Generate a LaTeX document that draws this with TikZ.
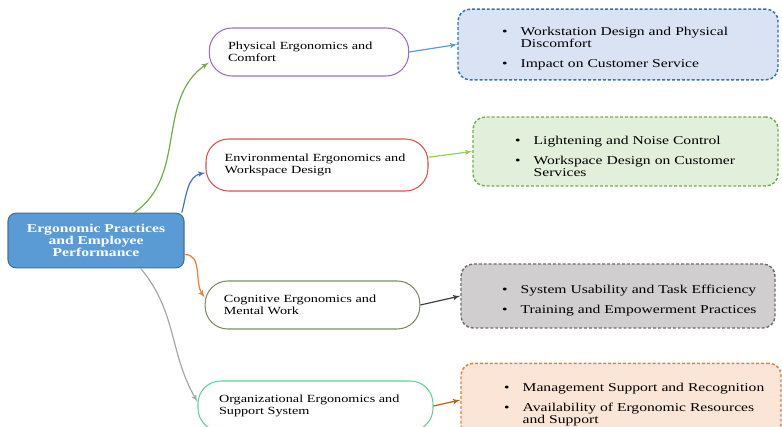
\documentclass[tikz,border=0pt]{standalone}
\usepackage{fontspec}
\setmainfont{Liberation Serif}[FakeStretch=1.3]
\usepackage{xcolor}
\usepackage{tikz}
\usetikzlibrary{arrows}
\tikzset{>=latex'}
\definecolor{rootfill}{HTML}{5B9BD5}
\definecolor{rootedge}{HTML}{41719C}
\definecolor{physline}{HTML}{9E6BCB}
\definecolor{envline}{HTML}{D9534F}
\definecolor{cogline}{HTML}{7B8F62}
\definecolor{orgline}{HTML}{5ED49A}
\definecolor{bluedash}{HTML}{2E75B6}
\definecolor{bluefill}{HTML}{DAE3F3}
\definecolor{greendash}{HTML}{70AD47}
\definecolor{greenfill}{HTML}{E2EFDA}
\definecolor{graydash}{HTML}{6E6E6E}
\definecolor{grayfill}{HTML}{D0CECE}
\definecolor{orangedash}{HTML}{ED7D31}
\definecolor{orangefill}{HTML}{FBE5D6}
\definecolor{branchblue}{HTML}{4472C4}
\definecolor{linkgreen}{HTML}{92D050}
\definecolor{linkorange}{HTML}{C55A11}
\newlength{\bind}
\newcommand{\bstart}[1]{\setlength{\bind}{#1}\rule{0pt}{13pt}}
\newcommand{\bitem}{\hspace*{\bind}\makebox[14pt][l]{\textbullet}}
\newcommand{\bcont}{\hspace*{\dimexpr\bind+14pt\relax}}

\begin{document}
\begin{tikzpicture}[x=0.75pt,y=-0.75pt,
	topic/.style={draw,line width=0.8pt,rounded corners=17pt,align=left,font=\fontsize{8.2}{9}\selectfont,inner xsep=14pt,inner ysep=0pt},
	detail/.style={draw,line width=1.1pt,dash pattern=on 2.2pt off 1.5pt,rounded corners=9pt,align=left,font=\fontsize{9}{9}\selectfont,inner sep=0pt},
	link/.style={->,line width=0.9pt}]
	\useasboundingbox (0,0) rectangle (782,427);
	\node[draw=rootedge,fill=rootfill,line width=0.8pt,rounded corners=6pt,minimum width=132pt,minimum height=41pt,align=center,text=white,font=\fontsize{9}{9}\selectfont\bfseries] (root) at (96,240.5) {Ergonomic Practices\\and Employee\\Performance};
	\node[topic,draw=physline,minimum height=36pt,text width=121.5pt] (phys) at (309,52) {Physical Ergonomics and\\Comfort};
	\node[topic,draw=envline,minimum height=39pt,text width=138.5pt] (env) at (317,165) {Environmental Ergonomics and\\Workspace Design};
	\node[topic,draw=cogline,minimum height=36pt,text width=133pt] (cog) at (312.5,305) {Cognitive Ergonomics and\\Mental Work};
	\node[topic,draw=orgline,minimum height=37.5pt,inner xsep=15.75pt,text width=144.75pt] (org) at (315.5,406) {Organizational Ergonomics and\\Support System};
	\node[detail,draw=bluedash,fill=bluefill,text width=240pt,minimum height=53pt] (work) at (618,44.5) {\bstart{33pt}\bitem Workstation Design and Physical\\\bcont Discomfort\\[6pt]\bitem Impact on Customer Service};
	\node[detail,draw=greendash,fill=greenfill,text width=228.75pt,minimum height=51.75pt] (light) at (625.5,151.5) {\bstart{31.5pt}\bitem Lightening and Noise Control\\[6pt]\bitem Workspace Design on Customer\\\bcont Services};
	\node[detail,draw=graydash,fill=grayfill,text width=235.5pt,minimum height=48pt] (usab) at (618,296) {\bstart{30.75pt}\bitem System Usability and Task Efficiency\\[6pt]\bitem Training and Empowerment Practices};
	\node[detail,draw=orangedash,fill=orangefill,text width=240pt,minimum height=55pt] (manag) at (621,400) {\bstart{32.25pt}\bitem Management Support and Recognition\\[6pt]\bitem Availability of Ergonomic Resources\\\bcont and Support};
	\draw[link,draw=greendash] (root.36.5) to[out=35,in=215] (phys.186);
	\draw[link,draw=branchblue] (root.18.5) to[out=75,in=190] (env.184);
	\draw[link,draw=orangedash] (root.-9.4) to[out=0,in=125] (cog.176);
	\draw[link,draw=black!35] (root.-32) to[out=-50,in=120] (org.178);
	\draw[link,draw=rootfill] (phys.east) -- (work.west);
	\draw[link,draw=linkgreen] (env.4) -- (light.west);
	\draw[link,draw=black!75] (cog.east) -- (usab.west);
	\draw[link,draw=linkorange] (org.east) -- (manag.west);
\end{tikzpicture}
\end{document}
